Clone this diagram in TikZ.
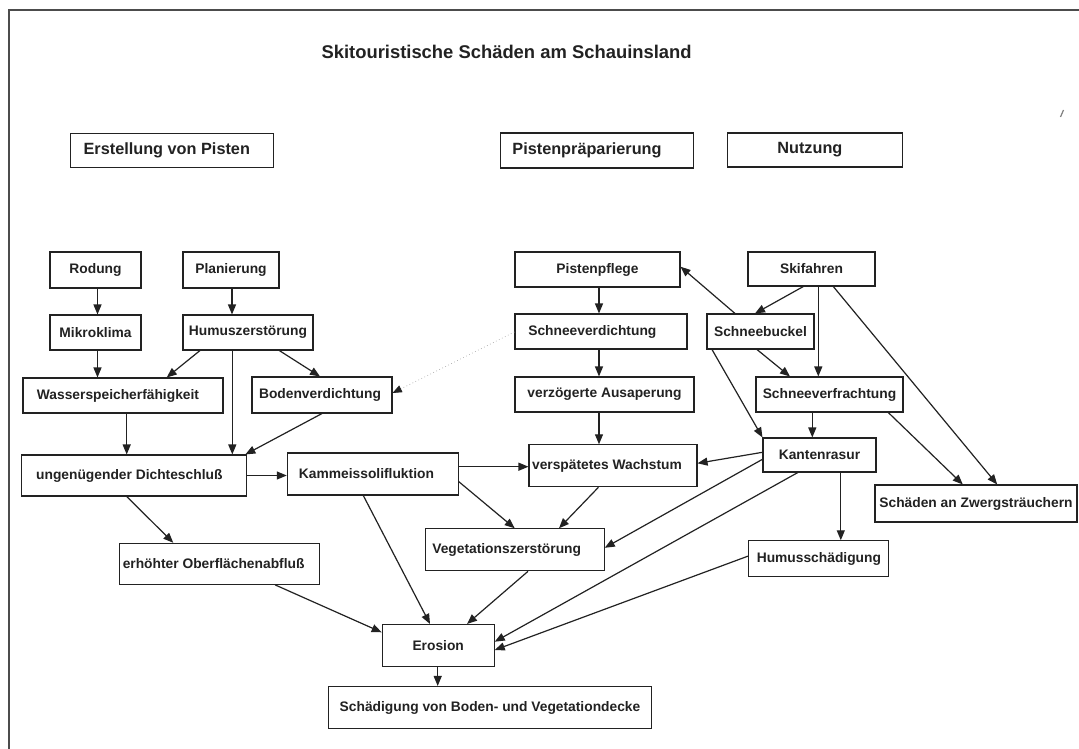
\documentclass[tikz,border=0pt]{standalone}
\usepackage{fontspec}
\setmainfont{Liberation Sans}
\usetikzlibrary{arrows.meta,calc}
\definecolor{ink}{HTML}{222222}
\tikzset{
 box/.style={draw=ink, line width=0.8pt, inner sep=0pt, text=ink, font=\fontsize{10.35}{12}\selectfont\bfseries},
 head/.style={box, font=\fontsize{12.2}{14}\selectfont\bfseries},
 arr/.style={draw=ink, line width=0.9pt, -{Triangle[length=7.5pt,width=6pt]}},
 dots/.style={draw=black!35, line width=0.5pt, dotted, -{Triangle[length=7pt,width=5.5pt,color=ink]}}
}
\begin{document}
\begin{tikzpicture}[x=0.75pt,y=-0.75pt]
\fill[white] (0,0) rectangle (1079,749);
\useasboundingbox (0,0) rectangle (1079,749);
% frame
\draw[draw=black!70, line width=1.1pt] (9,749) -- (9,10) -- (1079,10);
\draw[black!50, line width=0.9pt] (1060.5,117) -- (1063.5,110);
% title and headings
\node[text=ink, font=\fontsize{13.8}{16}\selectfont\bfseries] (title) at (506.6,51.5) {Skitouristische Schäden am Schauinsland};
\node[head, minimum width=202.5*0.75pt, minimum height=34.4*0.75pt] (hE) at (171.8,150.5) {\kern-7.5pt Erstellung von Pisten};
\node[head, minimum width=193.4*0.75pt, minimum height=35*0.75pt] (hP) at (597,150.5) {\kern-15pt Pistenpräparierung};
\node[head, minimum width=174.3*0.75pt, minimum height=34*0.75pt] (hN) at (814.9,150) {\kern-7.5pt Nutzung};
% left column
\node[box, minimum width=91*0.75pt, minimum height=36*0.75pt] (rod) at (95.5,270) {Rodung};
\node[box, minimum width=96*0.75pt, minimum height=36*0.75pt] (plan) at (231,270) {Planierung};
\node[box, minimum width=91*0.75pt, minimum height=35*0.75pt] (mikro) at (95.5,332.5) {Mikroklima};
\node[box, minimum width=130*0.75pt, minimum height=35*0.75pt] (humus) at (248,332.5) {Humuszerstörung};
\node[box, minimum width=200*0.75pt, minimum height=35*0.75pt] (wasser) at (123,395.5) {\kern-7.5pt Wasserspeicherfähigkeit};
\node[box, minimum width=140*0.75pt, minimum height=36*0.75pt] (boden) at (322,395) {\kern-3pt Bodenverdichtung};
\node[box, minimum width=225*0.75pt, minimum height=41*0.75pt] (dicht) at (134.3,475.5) {\kern-7.5pt ungenügender Dichteschluß};
\node[box, minimum width=171*0.75pt, minimum height=42*0.75pt] (kamm) at (372.8,474) {\kern-9.5pt Kammeissolifluktion};
\node[box, minimum width=200*0.75pt, minimum height=41*0.75pt] (ober) at (219.3,563.8) {\kern-8.5pt erhöhter Oberflächenabfluß};
\node[box, minimum width=112*0.75pt, minimum height=42*0.75pt] (ero) at (438.2,645.5) {Erosion};
\node[box, minimum width=323*0.75pt, minimum height=42*0.75pt] (schaed) at (490,707.5) {Schädigung von Boden- und Vegetationdecke};
\node[box, minimum width=179*0.75pt, minimum height=42*0.75pt] (veg) at (514.7,549.8) {\kern-12pt Vegetationszerstörung};
% middle / right
\node[box, minimum width=165*0.75pt, minimum height=35*0.75pt] (pflege) at (597.5,269.5) {Pistenpflege};
\node[box, minimum width=127*0.75pt, minimum height=34*0.75pt] (ski) at (811.5,269) {Skifahren};
\node[box, minimum width=172*0.75pt, minimum height=35*0.75pt] (sverd) at (601,331.5) {\kern-13pt Schneeverdichtung};
\node[box, minimum width=107*0.75pt, minimum height=35*0.75pt] (buckel) at (760.5,331.5) {Schneebuckel};
\node[box, minimum width=179*0.75pt, minimum height=35*0.75pt] (ausap) at (604.5,394.5) {verzögerte Ausaperung};
\node[box, minimum width=147*0.75pt, minimum height=35*0.75pt] (sfracht) at (829.5,394.5) {Schneeverfrachtung};
\node[box, minimum width=113*0.75pt, minimum height=34*0.75pt] (kante) at (819.5,455) {Kantenrasur};
\node[box, minimum width=168*0.75pt, minimum height=42*0.75pt] (wachs) at (613,465.8) {\kern-9pt verspätetes Wachstum};
\node[box, minimum width=140*0.75pt, minimum height=36*0.75pt] (hschaed) at (818.9,558.8) {Humusschädigung};
\node[box, minimum width=202*0.75pt, minimum height=37*0.75pt] (zwerg) at (976,503.5) {Schäden an Zwergsträuchern};
% helper coordinates
\coordinate (c2) at ($(plan.south)+(1,0)$);
\coordinate (c3) at ($(mikro.south)+(2,0)$);
\coordinate (c6) at ($(humus.south)+(-15.7,0)$);
\coordinate (c7) at ($(wasser.south)+(3.7,0)$);
\coordinate (c13) at ($(kamm.east)+(0,-7.3)$);
\coordinate (c21) at ($(kante.south)+(21.3,0)$);
\coordinate (c22) at ($(ero.south)+(-0.5,0)$);
\coordinate (c23) at ($(pflege.south)+(1.5,0)$);
\coordinate (c24) at ($(sverd.south)+(-2,0)$);
\coordinate (c25) at ($(ausap.south)+(-5.5,0)$);
\coordinate (c28) at ($(ski.south)+(6.8,0)$);
\coordinate (c32) at ($(sfracht.south)+(-17.2,0)$);
% connectors left
\draw[arr] ($(rod.south)+(2,0)$) -- ($(mikro.north)+(2,0)$);
\draw[arr] (c2) -- (c2 |- humus.north);
\draw[arr] (c3) -- (c3 |- wasser.north);
\draw[arr] ($(humus.south)+(-48,0)$) -- ($(wasser.north)+(43.7,0)$);
\draw[arr] ($(humus.south)+(31.3,0)$) -- ($(boden.north)+(-2,0)$);
\draw[arr] (c6) -- (c6 |- dicht.north);
\draw[arr] (c7) -- (c7 |- dicht.north);
\draw[arr] (boden.south) -- ($(dicht.north east)+(-2,0)$);
\draw[arr] (dicht.east) -- (dicht.east -| kamm.west);
\draw[arr] ($(dicht.south)+(-7.6,0)$) -- ($(ober.north)+(-46,0)$);
\draw[arr] ($(kamm.south)+(-9.5,0)$) -- ($(ero.north)+(-8.2,0)$);
\draw[arr] ($(kamm.east)+(0,7.7)$) -- (veg.north);
\draw[arr] (c13) -- (c13 -| wachs.west);
\draw[arr] ($(ober.south)+(55.7,0)$) -- ($(ero.west)+(0,-13.2)$);
\draw[arr] ($(veg.south)+(13.3,0)$) -- ($(ero.north)+(28.8,0)$);
\draw[arr] ($(wachs.south)+(-14.6,0)$) -- ($(veg.north)+(44.3,0)$);
\draw[arr] ($(kante.west)+(0,-2.7)$) -- ($(wachs.east)+(0,-2.5)$);
\draw[arr] ($(kante.west)+(0,4.3)$) -- ($(veg.east)+(0,-2)$);
\draw[arr] ($(kante.south)+(-21.7,0)$) -- ($(ero.east)+(0,-3.8)$);
\draw[arr] ($(hschaed.west)+(0,-2.8)$) -- ($(ero.east)+(0,4.5)$);
\draw[arr] (c21) -- (c21 |- hschaed.north);
\draw[arr] (c22) -- (c22 |- schaed.north);
% connectors right
\draw[arr] (c23) -- (c23 |- sverd.north);
\draw[arr] (c24) -- (c24 |- ausap.north);
\draw[arr] (c25) -- (c25 |- wachs.north);
\draw[arr] ($(buckel.north)+(-25.5,0)$) -- ($(pflege.east)+(0,-2.8)$);
\draw[arr] ($(ski.south)+(-8.2,0)$) -- ($(buckel.north)+(-5.5,0)$);
\draw[arr] (c28) -- (c28 |- sfracht.north);
\draw[arr] ($(ski.south)+(21.8,0)$) -- ($(zwerg.north)+(21.2,0)$);
\draw[arr] ($(buckel.south)+(-3.5,0)$) -- ($(sfracht.north)+(-39.5,0)$);
\draw[arr] ($(buckel.south)+(-48.5,0)$) -- (kante.north west);
\draw[arr] (c32) -- (c32 |- kante.north);
\draw[arr] ($(sfracht.south)+(58.8,0)$) -- ($(zwerg.north)+(-13.2,0)$);
\draw[dots] ($(sverd.west)+(0,0.5)$) -- ($(boden.east)+(0,-2)$);
\end{tikzpicture}
\end{document}
